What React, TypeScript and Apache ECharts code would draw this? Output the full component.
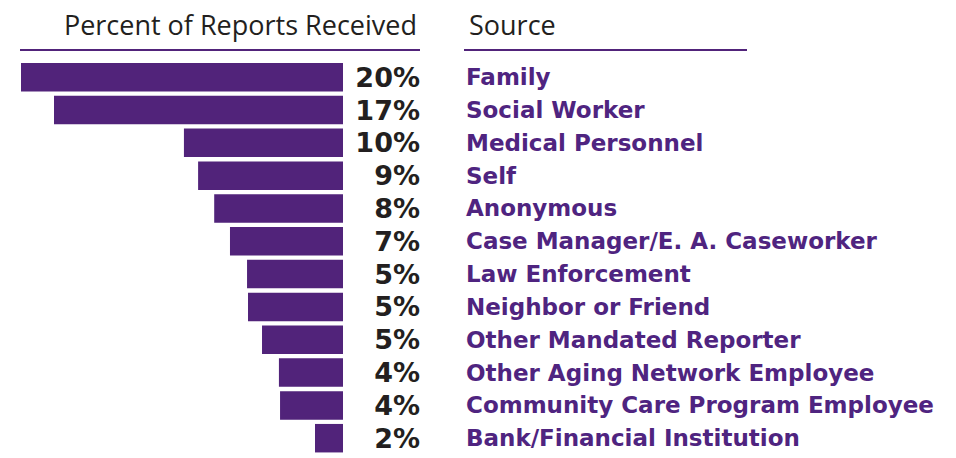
import React, { useEffect, useRef } from "react";
import * as echarts from "echarts";

const sources = [
  "Family",
  "Social Worker",
  "Medical Personnel",
  "Self",
  "Anonymous",
  "Case Manager/E. A. Caseworker",
  "Law Enforcement",
  "Neighbor or Friend",
  "Other Mandated Reporter",
  "Other Aging Network Employee",
  "Community Care Program Employee",
  "Bank/Financial Institution",
];
// bar lengths (percent)
const values = [20.0, 17.95, 9.88, 9.0, 8.0, 7.02, 5.96, 5.9, 5.03, 3.98, 3.91, 1.74];
const pctLabels = ["20%", "17%", "10%", "9%", "8%", "7%", "5%", "5%", "5%", "4%", "4%", "2%"];

const leftTitle = "Percent of Reports Received";
const rightTitle = "Source";

export default function App() {
  const ref = useRef<HTMLDivElement>(null);
  useEffect(() => {
    if (!ref.current) return;
    const chart = echarts.init(ref.current, undefined, { renderer: "svg" });
    const purple = "#51237a";
    chart.setOption({
      animation: false,
      backgroundColor: "#ffffff",
      grid: { left: 21, width: 322, top: 60.8, height: 393.8, containLabel: false },
      xAxis: {
        type: "value",
        min: 0,
        max: 20,
        inverse: true,
        show: false,
      },
      yAxis: [
        {
          type: "category",
          data: sources,
          inverse: true,
          position: "right",
          axisLine: { show: false },
          axisTick: { show: false },
          splitLine: { show: false },
          axisLabel: {
            interval: 0,
            formatter: (_v: string, i: number) => pctLabels[i],
            align: "right",
            margin: 77,
            fontFamily: "DejaVu Sans",
            fontWeight: "bold",
            fontSize: 27,
            lineHeight: 28,
            color: "#231f20",
          },
        },
        {
          type: "category",
          data: sources,
          inverse: true,
          position: "right",
          axisLine: { show: false },
          axisTick: { show: false },
          splitLine: { show: false },
          axisLabel: {
            interval: 0,
            align: "left",
            margin: 123,
            fontFamily: "DejaVu Sans",
            fontWeight: "bold",
            fontSize: 23,
            lineHeight: 24,
            color: "#4f2480",
          },
        },
      ],
      series: [
        {
          type: "bar",
          yAxisIndex: 0,
          data: values,
          barWidth: 28.5,
          itemStyle: { color: purple },
        },
      ],
      graphic: [
        {
          type: "text",
          x: 417,
          y: 24,
          style: {
            text: leftTitle,
            align: "right",
            verticalAlign: "middle",
            fontFamily: "Open Sans",
            fontSize: 27,
            fill: "#231f20",
          },
        },
        {
          type: "text",
          x: 469,
          y: 24,
          style: {
            text: rightTitle,
            align: "left",
            verticalAlign: "middle",
            fontFamily: "Open Sans",
            fontSize: 27,
            fill: "#231f20",
          },
        },
        {
          type: "line",
          shape: { x1: 20, y1: 50, x2: 420, y2: 50 },
          style: { stroke: purple, lineWidth: 2 },
        },
        {
          type: "line",
          shape: { x1: 464, y1: 50, x2: 747, y2: 50 },
          style: { stroke: purple, lineWidth: 2 },
        },
      ],
    });
    return () => chart.dispose();
  }, []);
  return (
    <div
      ref={ref}
      style={{ width: 956, height: 458, position: "absolute", left: 0, top: 0 }}
    />
  );
}
